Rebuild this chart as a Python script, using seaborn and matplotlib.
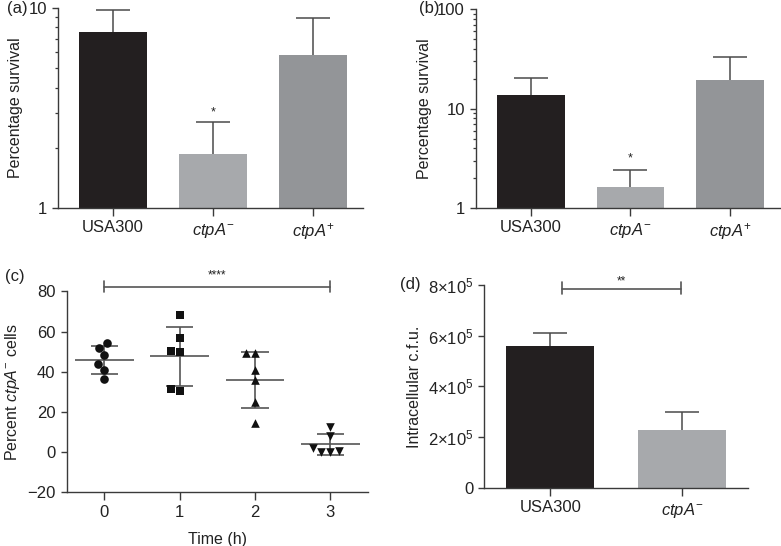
import numpy as np
import pandas as pd
import matplotlib
matplotlib.use("Agg")
import matplotlib.pyplot as plt
from matplotlib.ticker import LogLocator, NullFormatter, FixedLocator
import seaborn as sns

sns.set_theme(style="ticks")
plt.rcParams['font.family'] = ['Liberation Sans', 'DejaVu Sans']
plt.rcParams['mathtext.fontset'] = 'custom'
plt.rcParams['mathtext.rm'] = 'Liberation Sans'
plt.rcParams['mathtext.it'] = 'Liberation Sans:italic'
plt.rcParams['mathtext.bf'] = 'Liberation Sans:bold'
plt.rcParams['mathtext.sf'] = 'Liberation Sans'

# ---------------- data ----------------
strains3 = ["USA300", r"$\mathit{ctpA}^{-}$", r"$\mathit{ctpA}^{+}$"]
strains2 = ["USA300", r"$\mathit{ctpA}^{-}$"]
colors3 = ["#231f20", "#a7a9ac", "#939598"]
colors2 = ["#231f20", "#a7a9ac"]

a_mean = [7.56, 1.86, 5.82]
a_upper = [9.73, 2.70, 8.88]

b_mean = [13.8, 1.61, 19.3]
b_upper = [20.5, 2.41, 32.9]

times = [0, 1, 2, 3]
t0 = [51.8, 48.3, 54.1, 43.7, 40.9, 36.2]
t1 = [68.2, 56.6, 50.3, 49.8, 30.4, 31.2]
t2 = [49.2, 49.2, 40.9, 35.9, 25.1, 14.7]
t3 = [12.5, 8.0, 2.0, 0.5, 0.0, 0.0]
markers_c = ['o', 's', '^', 'v']

d_mean = [5.58e5, 2.27e5]
d_upper = [6.11e5, 2.98e5]
d_ticklabels = ["0", r"2×10$^{5}$", r"4×10$^{5}$", r"6×10$^{5}$", r"8×10$^{5}$"]

# ---------------- styling ----------------
W, H = 781, 546
fig = plt.figure(figsize=(W / 100, H / 100), dpi=100)
spine_c = "#3a3a3a"
err_c = "#4a4a4a"
line_c = "#555555"
TICK_FS = 12
LAB_FS = 11.5


def px_axes(l, t, r, b):
    return fig.add_axes([l / W, 1 - b / H, (r - l) / W, (b - t) / H])


def style(ax):
    sns.despine(ax=ax)
    for s in ("left", "bottom"):
        ax.spines[s].set_color(spine_c)
        ax.spines[s].set_linewidth(1.0)
    ax.tick_params(axis="both", which="major", colors=spine_c, labelcolor="#222222",
                   labelsize=TICK_FS, length=4.5, width=1.0)
    ax.tick_params(axis="x", which="major", length=5.5)
    ax.tick_params(axis="y", which="minor", colors=spine_c, length=2.5, width=0.9)
    ax.set_facecolor("white")


def bar_panel(ax, cats, means, uppers, cols, width, log=False):
    if log:
        ax.set_yscale("log")
    sns.barplot(x=cats, y=means, hue=cats, palette=cols, legend=False,
                width=width, errorbar=None, saturation=1, ax=ax, linewidth=0)
    pos = np.arange(len(cats))
    lower = np.zeros(len(cats))
    up = np.array(uppers) - np.array(means)
    _, caps, _ = ax.errorbar(pos, means, yerr=[lower, up], fmt="none", ecolor=err_c,
                             elinewidth=1.1, capsize=12, capthick=1.1, zorder=3)
    # keep only the upper caps (one-sided error bars)
    for cl in caps:
        if np.allclose(cl.get_ydata(), means):
            cl.set_visible(False)
    ax.set_xlabel("")


# ---------------- (a) ----------------
ax_a = px_axes(58, 8, 363, 208)
bar_panel(ax_a, strains3, a_mean, a_upper, colors3, 0.68, log=True)
ax_a.set_ylim(1, 10)
ax_a.set_xlim(-0.55, 2.5)
ax_a.yaxis.set_major_locator(FixedLocator([1, 10]))
ax_a.set_yticklabels(["1", "10"])
ax_a.yaxis.set_minor_locator(LogLocator(base=10, subs=np.arange(2, 10)))
ax_a.yaxis.set_minor_formatter(NullFormatter())
ax_a.set_ylabel("Percentage survival", fontsize=LAB_FS, color="#222222")
style(ax_a)
ax_a.text(1, 3.0, "*", ha="center", va="center", fontsize=9, color="#222222")

# ---------------- (b) ----------------
ax_b = px_axes(476, 9.3, 780, 208)
bar_panel(ax_b, strains3, b_mean, b_upper, colors3, 0.68, log=True)
ax_b.set_ylim(1, 100)
ax_b.set_xlim(-0.55, 2.5)
ax_b.yaxis.set_major_locator(FixedLocator([1, 10, 100]))
ax_b.set_yticklabels(["1", "10", "100"])
ax_b.yaxis.set_minor_locator(LogLocator(base=10, subs=np.arange(2, 10)))
ax_b.yaxis.set_minor_formatter(NullFormatter())
ax_b.set_ylabel("Percentage survival", fontsize=LAB_FS, color="#222222")
style(ax_b)
ax_b.text(1, 3.15, "*", ha="center", va="center", fontsize=9, color="#222222")

# ---------------- (c) ----------------
ax_c = px_axes(66.7, 291.3, 368, 492.3)
groups = [t0, t1, t2, t3]
for t, vals, m in zip(times, groups, markers_c):
    df = pd.DataFrame({"time": [t] * len(vals), "pct": vals})
    sns.swarmplot(data=df, x="time", y="pct", order=times, marker=m,
                  color="#111111", size=6.2, ax=ax_c, zorder=3)
for i, vals in enumerate(groups):
    mu = np.mean(vals)
    sd = np.std(vals, ddof=1)
    ax_c.hlines(mu, i - 0.39, i + 0.39, color=line_c, lw=1.2, zorder=2)
    ax_c.hlines([mu - sd, mu + sd], i - 0.18, i + 0.18, color=line_c, lw=1.2, zorder=2)
    ax_c.vlines(i, mu - sd, mu + sd, color=line_c, lw=1.2, zorder=2)
ax_c.set_ylim(-20, 80)
ax_c.set_xlim(-0.5, 3.5)
ax_c.set_yticks([-20, 0, 20, 40, 60, 80])
ax_c.set_yticklabels(["−20", "0", "20", "40", "60", "80"])
ax_c.set_xlabel("Time (h)", fontsize=LAB_FS, color="#222222", labelpad=9)
ax_c.set_ylabel(r"Percent $\mathit{ctpA}^{-}$ cells", fontsize=LAB_FS, color="#222222")
style(ax_c)
ax_c.plot([0, 3], [82.3, 82.3], color=line_c, lw=1.2, clip_on=False)
ax_c.plot([0, 0], [79.5, 85.0], color=line_c, lw=1.2, clip_on=False)
ax_c.plot([3, 3], [79.5, 85.0], color=line_c, lw=1.2, clip_on=False)
ax_c.text(1.5, 88.0, "****", ha="center", va="center", fontsize=8.5,
          color="#222222", clip_on=False)

# ---------------- (d) ----------------
ax_d = px_axes(484.3, 284.7, 748, 488)
bar_panel(ax_d, strains2, d_mean, d_upper, colors2, 0.67)
ax_d.set_ylim(0, 8e5)
ax_d.set_xlim(-0.5, 1.5)
ax_d.set_yticks([0, 2e5, 4e5, 6e5, 8e5])
ax_d.set_yticklabels(d_ticklabels)
ax_d.set_ylabel("Intracellular c.f.u.", fontsize=LAB_FS, color="#222222")
style(ax_d)
ax_d.plot([0.09, 0.99], [7.83e5, 7.83e5], color=line_c, lw=1.2, clip_on=False)
ax_d.plot([0.09, 0.09], [7.63e5, 8.1e5], color=line_c, lw=1.2, clip_on=False)
ax_d.plot([0.99, 0.99], [7.63e5, 8.1e5], color=line_c, lw=1.2, clip_on=False)
ax_d.text(0.54, 8.12e5, "**", ha="center", va="center", fontsize=8.5,
          color="#222222", clip_on=False)

# ---------------- panel labels ----------------
fig.text(7 / W, 1 - 8 / H, "(a)", fontsize=TICK_FS, va="center", ha="left", color="#222222")
fig.text(419 / W, 1 - 8 / H, "(b)", fontsize=TICK_FS, va="center", ha="left", color="#222222")
fig.text(5 / W, 1 - 277 / H, "(c)", fontsize=TICK_FS, va="center", ha="left", color="#222222")
fig.text(400 / W, 1 - 284 / H, "(d)", fontsize=TICK_FS, va="center", ha="left", color="#222222")

fig.savefig("out.png", dpi=100, facecolor="white")
